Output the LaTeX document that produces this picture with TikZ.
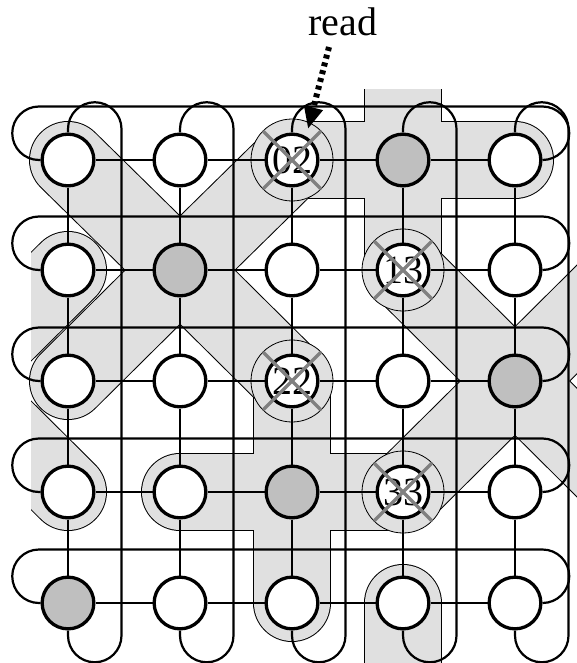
\documentclass[tikz,border=0pt]{standalone}
\usepackage{fontspec}
\setmainfont{Liberation Serif}
\usetikzlibrary{arrows.meta,calc}
\definecolor{regfill}{RGB}{224,224,224}
\definecolor{nodegray}{RGB}{191,191,191}
\definecolor{crossgray}{RGB}{128,128,128}
\pgfdeclarelayer{regions}
\pgfdeclarelayer{lines}
\pgfsetlayers{regions,lines,main}
\begin{document}
\begin{tikzpicture}[x=1pt,y=-1pt,
  gridline/.style={line width=2.2pt, line join=round},
  pnode/.style={circle, draw=black, line width=3.3pt, minimum size=51.7pt, inner sep=0pt, fill=white},
  g-0-3/.style={fill=nodegray}, g-1-1/.style={fill=nodegray}, g-2-4/.style={fill=nodegray},
  g-3-2/.style={fill=nodegray}, g-4-0/.style={fill=nodegray},
  regout/.style={draw=black, line width=78pt, line cap=round},
  regin/.style={draw=regfill, line width=76pt, line cap=round},
  halo/.style={circle, fill=regfill, draw=black, line width=0.8pt, minimum size=82pt, inner sep=0pt},
  numlab/.style={font=\fontsize{40}{40}\selectfont, inner sep=0pt},
  xline/.style={draw=crossgray, line width=3.5pt},
  readarrow/.style={line width=6pt, dash pattern=on 4pt off 4pt, -{Triangle[length=22pt,width=18pt]}}
]
\useasboundingbox (0,0) rectangle (576,663);
\clip (0,0) rectangle (576,663);

% ---------- nodes ----------
\foreach \r/\yy in {0/160,1/270,2/381,3/492,4/603} {
  \foreach \c/\xx in {0/68,1/180,2/292,3/403,4/515} {
    \node[pnode, g-\r-\c/.try] (n-\r-\c) at (\xx,\yy) {};
  }
}
\coordinate (t03) at (403,49.25);
\coordinate (b03) at (403,713.75);
\coordinate (r1) at (626.75,270);
\coordinate (r3) at (626.75,492);
\coordinate (lw) at (-43.75,381);

% ---------- shaded regions ----------
\begin{pgfonlayer}{regions}
  \begin{scope}
    \clip (0,90) rectangle (576,663);
    \foreach \s in {regout,regin}
      \draw[\s] (n-0-3.center) -- (n-0-2.center) (n-0-3.center) -- (n-0-4.center)
                (n-0-3.center) -- (n-1-3.center) (n-0-3.center) -- (t03);
  \end{scope}
  \foreach \s in {regout,regin}
    \draw[\s] (n-4-3.center) -- (b03);
  \foreach \s in {regout,regin}
    \draw[\s] (n-3-2.center) -- (n-2-2.center) (n-3-2.center) -- (n-4-2.center)
              (n-3-2.center) -- (n-3-1.center) (n-3-2.center) -- (n-3-3.center);
  \foreach \s in {regout,regin}
    \draw[\s] (n-2-4.center) -- (n-1-3.center) (n-2-4.center) -- (n-3-3.center)
              (n-2-4.center) -- (r1) (n-2-4.center) -- (r3);
  \begin{scope}
    \clip (31,0) rectangle (576,663);
    \foreach \s in {regout,regin}
      \draw[\s] (lw) -- (n-1-0.center) (lw) -- (n-3-0.center);
  \end{scope}
  \foreach \s in {regout,regin}
    \draw[\s] (n-1-1.center) -- (n-0-0.center) (n-1-1.center) -- (n-0-2.center)
              (n-1-1.center) -- (n-2-0.center) (n-1-1.center) -- (n-2-2.center);
  \node[halo] (h02) at (n-0-2) {};
  \node[halo] (h13) at (n-1-3) {};
  \node[halo] (h22) at (n-2-2) {};
  \node[halo] (h33) at (n-3-3) {};
\end{pgfonlayer}

% ---------- mesh lines ----------
\begin{pgfonlayer}{lines}
  \foreach \r in {0,...,4} {
    \foreach \c [evaluate=\c as \cn using int(\c+1)] in {0,...,3}
      \draw[gridline] (n-\r-\c.east) -- (n-\r-\cn.west);
  }
  \foreach \c in {0,...,4} {
    \foreach \r [evaluate=\r as \rn using int(\r+1)] in {0,...,3}
      \draw[gridline] (n-\r-\c.south) -- (n-\rn-\c.north);
  }
  \foreach \r in {0,...,4}
    \draw[gridline] (n-\r-4.east) arc[start angle=90,end angle=-90,radius=26.75]
      -- ($(n-\r-0.west)+(-1.5,-53.5)$) arc[start angle=-90,end angle=-270,radius=26.75]
      -- (n-\r-0.west);
  \foreach \c in {0,...,4}
    \draw[gridline] (n-0-\c.north) -- ++(0,-3.5) arc[start angle=180,end angle=360,radius=26.75]
      -- ($(n-4-\c.south)+(53.5,5)$) arc[start angle=0,end angle=180,radius=26.75]
      -- (n-4-\c.south);
\end{pgfonlayer}

% ---------- labels and crosses ----------
\foreach \r/\c in {0/2,1/3,2/2,3/3} {
  \node[numlab] (lab-\r-\c) at (n-\r-\c) {\r\c};
  \draw[xline] ($(n-\r-\c)+(-29,-29)$) -- ($(n-\r-\c)+(29,29)$)
               ($(n-\r-\c)+(29,-29)$) -- ($(n-\r-\c)+(-29,29)$);
}

% ---------- read arrow ----------
\node[font=\fontsize{40}{42}\selectfont, anchor=base, inner sep=0pt] (read) at (343,36) {read};
\coordinate (ra) at (329,47);
\coordinate (rb) at (308,129);
\draw[readarrow] (ra) -- (rb);
\end{tikzpicture}
\end{document}
